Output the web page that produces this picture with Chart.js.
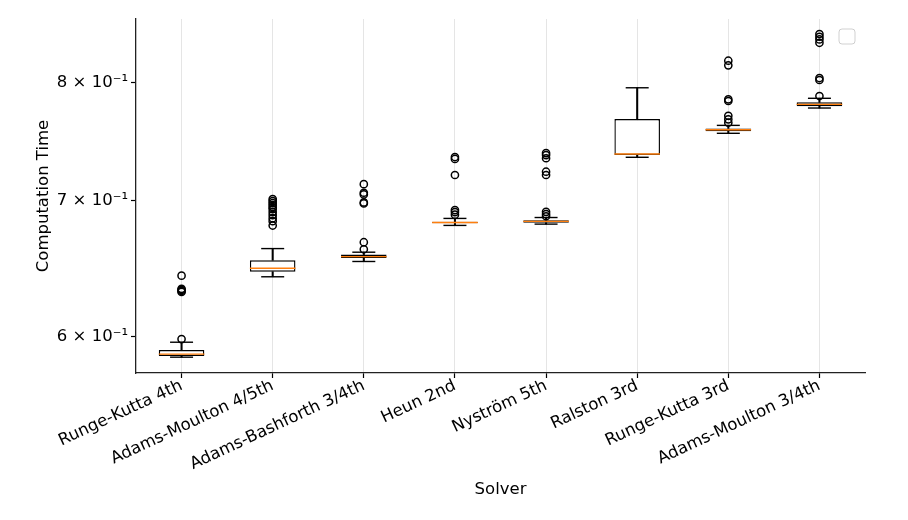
<!DOCTYPE html>
<html>
<head>
<meta charset="utf-8">
<script src="https://cdn.jsdelivr.net/npm/chart.js@4.4.1/dist/chart.umd.min.js"></script>
<style>
  html, body { margin: 0; padding: 0; background: #fff; }
  #wrap { width: 908px; height: 520px; position: relative; }
</style>
</head>
<body>
<div id="wrap"><canvas id="box-chart"></canvas></div>
<script>
// ── data ──
const CATEGORIES = ['Runge-Kutta 4th', 'Adams-Moulton 4/5th', 'Adams-Bashforth 3/4th', 'Heun 2nd',
                    'Nyström 5th', 'Ralston 3rd', 'Runge-Kutta 3rd', 'Adams-Moulton 3/4th'];
const WHISKER_LO = [0.5863, 0.6421, 0.6533, 0.6805, 0.6815, 0.7350, 0.7552, 0.7771];
const Q1         = [0.5871, 0.6458, 0.6558, 0.6821, 0.6825, 0.7369, 0.7569, 0.7786];
const MEDIAN     = [0.5883, 0.6483, 0.6569, 0.6828, 0.6836, 0.7377, 0.7582, 0.7803];
const Q3         = [0.5910, 0.6542, 0.6584, 0.6834, 0.6845, 0.7675, 0.7594, 0.7821];
const WHISKER_HI = [0.5963, 0.6629, 0.6602, 0.6859, 0.6866, 0.7951, 0.7620, 0.7857];
const OUTLIERS = [
  [0.6429, 0.6334, 0.6327, 0.6319, 0.6312, 0.5984],
  [0.6804, 0.7011, 0.6995, 0.6979, 0.6963, 0.6947, 0.6932, 0.6908, 0.6885, 0.6861, 0.6838],
  [0.7130, 0.7061, 0.7048, 0.6984, 0.6976, 0.6677, 0.6624],
  [0.7352, 0.7336, 0.7204, 0.6924, 0.6908, 0.6888],
  [0.7385, 0.7368, 0.7342, 0.7231, 0.7204, 0.6910, 0.6892, 0.6876],
  [],
  [0.8198, 0.8155, 0.7848, 0.7833, 0.7703, 0.7672, 0.7643],
  [0.8449, 0.8423, 0.8398, 0.8366, 0.8039, 0.8021, 0.7877],
];
const Y_TICKS = [0.6, 0.7, 0.8];
const Y_MIN = 0.5759, Y_MAX = 0.8594;

const FONT = { family: 'DejaVu Sans', size: 16.5 };
const INK = '#000';

const outlierPoints = OUTLIERS.flatMap((vals, i) => vals.map(v => ({ x: CATEGORIES[i], y: v })));

// empty legend frame in the top-right corner
const emptyLegend = {
  id: 'emptyLegend',
  afterDraw(chart) {
    const { ctx, chartArea } = chart;
    const x = chartArea.right - 26, y = chartArea.top + 10, w = 16, h = 15;
    ctx.save();
    ctx.fillStyle = 'rgba(255,255,255,0.8)';
    ctx.strokeStyle = 'rgba(0,0,0,0.18)';
    ctx.lineWidth = 1;
    ctx.beginPath();
    ctx.roundRect(x, y, w, h, 3);
    ctx.fill();
    ctx.stroke();
    ctx.restore();
  }
};

// medians and caps are drawn as 'line' point markers
const lineLike = (extra) => Object.assign({
  type: 'line',
  showLine: false,
  pointStyle: 'line',
  pointBorderWidth: 1.4,
  pointHoverRadius: 0,
}, extra);

new Chart(document.getElementById('box-chart'), {
  type: 'bar',
  data: {
    labels: CATEGORIES,
    datasets: [
      lineLike({ label: 'median', data: MEDIAN, borderColor: '#ff7f0e', pointBorderColor: '#ff7f0e', pointRadius: 22.8 }),
      lineLike({ label: 'cap lo', data: WHISKER_LO, borderColor: INK, pointBorderColor: INK, pointRadius: 11.5 }),
      lineLike({ label: 'cap hi', data: WHISKER_HI, borderColor: INK, pointBorderColor: INK, pointRadius: 11.5 }),
      {
        label: 'box',
        data: CATEGORIES.map((_, i) => [Q1[i], Q3[i]]),
        backgroundColor: '#fff',
        borderColor: INK,
        borderWidth: 1.4,
        borderSkipped: false,
        barPercentage: 0.5,
        categoryPercentage: 1,
        grouped: false,
      },
      {
        label: 'whisker lo',
        data: CATEGORIES.map((_, i) => [WHISKER_LO[i], Q1[i]]),
        backgroundColor: INK,
        borderWidth: 0,
        barThickness: 1.4,
        grouped: false,
      },
      {
        label: 'whisker hi',
        data: CATEGORIES.map((_, i) => [Q3[i], WHISKER_HI[i]]),
        backgroundColor: INK,
        borderWidth: 0,
        barThickness: 1.4,
        grouped: false,
      },
      {
        type: 'line',
        label: 'fliers',
        data: outlierPoints,
        showLine: false,
        pointStyle: 'circle',
        pointRadius: 3.6,
        pointBorderWidth: 1.5,
        pointBorderColor: INK,
        pointBackgroundColor: 'rgba(0,0,0,0)',
        pointHoverRadius: 0,
      },
    ]
  },
  options: {
    responsive: true,
    maintainAspectRatio: false,
    animation: false,
    events: [],
    layout: { autoPadding: false, padding: { left: 0, top: 19, right: 43, bottom: 0 } },
    plugins: {
      legend: { display: false },
      tooltip: { enabled: false },
      title: { display: false },
    },
    scales: {
      x: {
        type: 'category',
        offset: true,
        grid: { offset: false, color: 'rgba(0,0,0,0.1)', lineWidth: 1, tickColor: INK, tickLength: 5, tickWidth: 1.2 },
        border: { display: true, color: '#222', width: 1.3 },
        ticks: { color: INK, font: FONT, maxRotation: 25, minRotation: 25, padding: -2, autoSkip: false },
        title: { display: true, text: 'Solver', color: INK, font: FONT, padding: { top: 0, bottom: 20 } },
        afterFit: (scale) => { scale.height = 147; },
      },
      y: {
        type: 'logarithmic',
        min: Y_MIN,
        max: Y_MAX,
        grid: { drawOnChartArea: false, tickColor: INK, tickLength: 5, tickWidth: 1.2 },
        border: { display: true, color: '#222', width: 1.3 },
        afterBuildTicks: (scale) => { scale.ticks = Y_TICKS.map(v => ({ value: v })); },
        ticks: {
          color: INK,
          font: FONT,
          padding: 3,
          callback: (v) => `${Math.round(v * 10)} × 10⁻¹`,
        },
        title: { display: true, text: 'Computation Time', color: INK, font: FONT, padding: { top: 34, bottom: 0 } },
        afterFit: (scale) => { scale.width = 136; },
      }
    }
  },
  plugins: [emptyLegend]
});
</script>
</body>
</html>
